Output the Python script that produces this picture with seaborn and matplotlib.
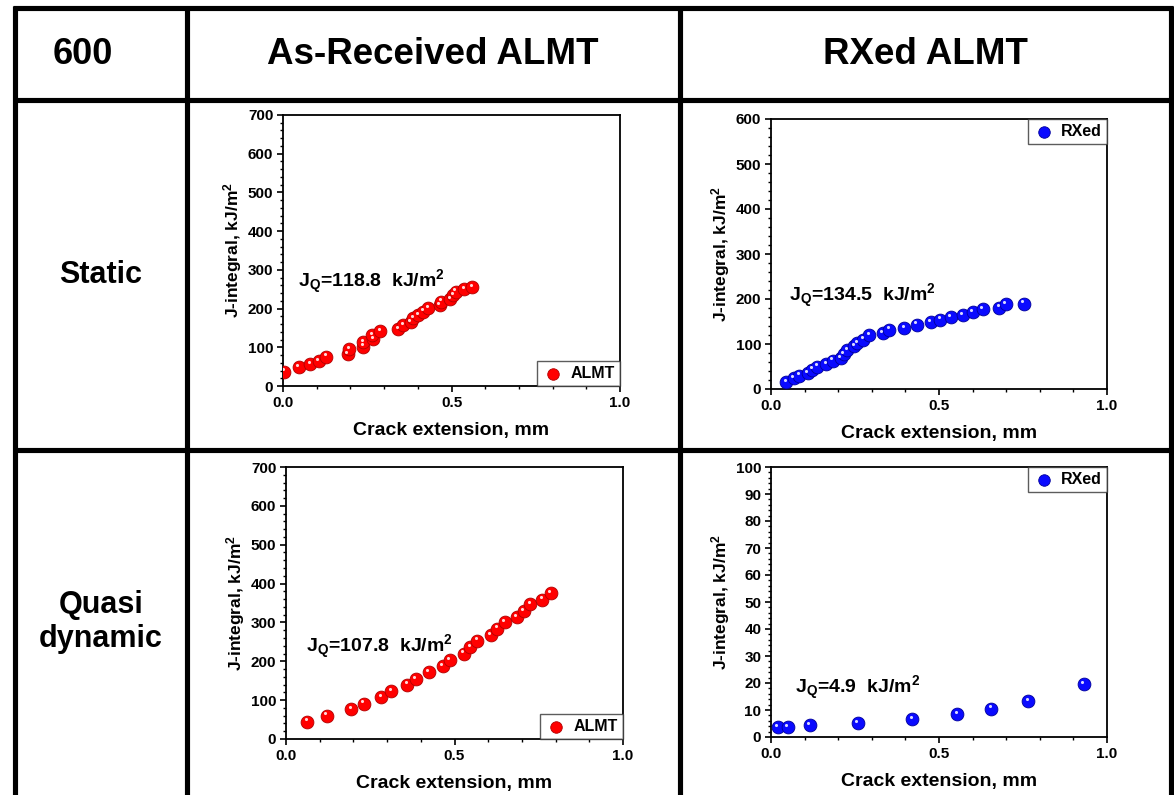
import matplotlib
matplotlib.use("Agg")
import matplotlib.pyplot as plt
import seaborn as sns
import pandas as pd
from matplotlib.lines import Line2D
from matplotlib.ticker import MultipleLocator
from matplotlib.transforms import ScaledTranslation

# ---- data -------------------------------------------------------------
static_almt_x = [0.003, 0.047, 0.080, 0.106, 0.129, 0.192, 0.196, 0.238, 0.238,
                 0.267, 0.265, 0.289, 0.342, 0.357, 0.379, 0.386, 0.401, 0.416,
                 0.431, 0.465, 0.470, 0.497, 0.505, 0.513, 0.537, 0.561]
static_almt_j = [37, 48, 56, 65, 76, 83, 95, 102, 113, 121, 132, 141, 146, 158,
                 166, 175, 183, 192, 201, 209, 218, 224, 235, 244, 251, 256]

static_rx_x = [0.045, 0.067, 0.084, 0.109, 0.122, 0.137, 0.164, 0.184, 0.208,
               0.216, 0.226, 0.248, 0.257, 0.275, 0.293, 0.333, 0.352, 0.396,
               0.434, 0.475, 0.503, 0.535, 0.570, 0.600, 0.630, 0.679, 0.699, 0.752]
static_rx_j = [16, 24, 30, 36, 43, 50, 56, 63, 69, 78, 87, 95, 102, 110, 119,
               124, 132, 136, 143, 148, 154, 160, 165, 171, 178, 181, 188, 190]

quasi_almt_x = [0.063, 0.121, 0.193, 0.231, 0.283, 0.313, 0.360, 0.385, 0.424,
                0.465, 0.486, 0.527, 0.547, 0.567, 0.607, 0.626, 0.649, 0.684,
                0.705, 0.724, 0.761, 0.785]
quasi_almt_j = [45, 60, 76, 91, 107, 124, 140, 155, 172, 187, 204, 220, 236,
                253, 267, 284, 300, 314, 330, 347, 359, 375]

quasi_rx_x = [0.020, 0.050, 0.115, 0.258, 0.421, 0.554, 0.655, 0.766, 0.931]
quasi_rx_j = [3.6, 3.8, 4.4, 5.2, 6.7, 8.5, 10.5, 13.4, 19.6]

temperature = "600"
col_titles = ["As-Received ALMT", "RXed ALMT"]
row_titles = ["Static", "Quasi\ndynamic"]
jq_values = ["118.8", "134.5", "107.8", "4.9"]
series_names = ["ALMT", "RXed", "ALMT", "RXed"]

sns.set_style("white")
plt.rcParams["font.family"] = ["Liberation Sans", "DejaVu Sans"]
plt.rcParams["font.weight"] = "bold"
plt.rcParams["text.color"] = "black"
plt.rcParams["axes.labelcolor"] = "black"
plt.rcParams["xtick.color"] = "black"
plt.rcParams["ytick.color"] = "black"
plt.rcParams["mathtext.fontset"] = "custom"
plt.rcParams["mathtext.rm"] = "Liberation Sans:bold"
plt.rcParams["mathtext.bf"] = "Liberation Sans:bold"
plt.rcParams["mathtext.it"] = "Liberation Sans:bold"

W, H = 1174, 795
fig = plt.figure(figsize=(W / 100, H / 100), dpi=100)
fig.patch.set_facecolor("white")


def fx(px):
    return px / W


def fy(py):
    return 1 - py / H


# ---- table grid ----
lw = 3.7
for x0 in [15, 186.5, 680, 1171]:
    fig.add_artist(Line2D([fx(x0), fx(x0)], [fy(5.5), fy(800)], color="black", lw=lw,
                          solid_capstyle="butt"))
for y0 in [7.5, 99.5, 450]:
    fig.add_artist(Line2D([fx(13), fx(1173)], [fy(y0), fy(y0)], color="black", lw=lw,
                          solid_capstyle="butt"))

fig.text(fx(83), fy(55), temperature, ha="center", va="center", fontsize=26, fontweight="bold")
fig.text(fx(433), fy(55), col_titles[0], ha="center", va="center", fontsize=26.5, fontweight="bold")
fig.text(fx(925), fy(55), col_titles[1], ha="center", va="center", fontsize=26.5, fontweight="bold")
fig.text(fx(101), fy(275), row_titles[0], ha="center", va="center", fontsize=22, fontweight="bold")
fig.text(fx(101), fy(622), row_titles[1], ha="center", va="center", fontsize=22,
         fontweight="bold", linespacing=1.15)

# ---- panels ----
boxes = [(283, 115, 620, 386), (771, 119, 1107, 389),
         (286, 467, 623, 739), (771, 467, 1107, 737)]
datasets = [(static_almt_x, static_almt_j), (static_rx_x, static_rx_j),
            (quasi_almt_x, quasi_almt_j), (quasi_rx_x, quasi_rx_j)]
colors = ["#ff0000", "#0a0aff", "#ff0000", "#0a0aff"]
edge_colors = ["#b00000", "#00009a", "#b00000", "#00009a"]
ylims = [(0, 700, 100), (0, 600, 100), (0, 700, 100), (0, 100, 10)]
legend_locs = ["lower right", "upper right", "lower right", "upper right"]
text_pos = [(0.045, 0.385), (0.055, 0.343), (0.059, 0.339), (0.070, 0.181)]

for i in range(4):
    l, t, r, b = boxes[i]
    ax = fig.add_axes([fx(l), fy(b), (r - l) / W, (b - t) / H])
    df = pd.DataFrame({"x": datasets[i][0], "J": datasets[i][1]})
    sns.scatterplot(data=df, x="x", y="J", ax=ax, color=colors[i], s=85,
                    edgecolor=edge_colors[i], linewidth=0.6, label=series_names[i],
                    zorder=3)
    # small highlight for the shaded-ball look
    sns.scatterplot(data=df, x="x", y="J", ax=ax, color="white", s=5,
                    linewidth=0, zorder=4, alpha=0.85)
    hl = ax.collections[-1]
    hl.set_offset_transform(ax.transData + ScaledTranslation(-1.0 / 72, 1.6 / 72,
                                                             fig.dpi_scale_trans))

    ax.set_xlim(0, 1.0)
    ymin, ymax, step = ylims[i]
    ax.set_ylim(ymin, ymax)
    ax.xaxis.set_major_locator(MultipleLocator(0.5))
    ax.xaxis.set_minor_locator(MultipleLocator(0.1))
    ax.yaxis.set_major_locator(MultipleLocator(step))
    ax.yaxis.set_minor_locator(MultipleLocator(step / 5))
    ax.tick_params(axis="both", which="major", direction="out", length=4, width=1.2,
                   labelsize=11, pad=3, bottom=True, left=True)
    ax.tick_params(axis="both", which="minor", direction="out", length=2, width=1.0,
                   bottom=True, left=True)
    for lab in ax.get_xticklabels() + ax.get_yticklabels():
        lab.set_fontweight("bold")
    for sp in ax.spines.values():
        sp.set_visible(True)
        sp.set_linewidth(1.3)
        sp.set_color("black")

    ax.set_xlabel("Crack extension, mm", fontsize=14, fontweight="bold", labelpad=9)
    ax.set_ylabel(r"J-integral, kJ/m$^2$", fontsize=12.5, fontweight="bold", labelpad=3)

    ax.text(text_pos[i][0], text_pos[i][1],
            r"J$_\mathrm{Q}$=" + jq_values[i] + r"  kJ/m$^2$",
            transform=ax.transAxes, ha="left", va="center", fontsize=14,
            fontweight="bold")

    handles, labels = ax.get_legend_handles_labels()
    leg = ax.legend(handles[:1], labels[:1], loc=legend_locs[i], borderaxespad=0.0,
                    frameon=True, fancybox=False, fontsize=11.5, handletextpad=0.4,
                    borderpad=0.3, markerscale=0.9, handlelength=1.4)
    leg.get_frame().set_edgecolor("#333333")
    leg.get_frame().set_linewidth(1.0)
    for txt in leg.get_texts():
        txt.set_fontweight("bold")

fig.savefig("out.png", dpi=100, facecolor="white")
